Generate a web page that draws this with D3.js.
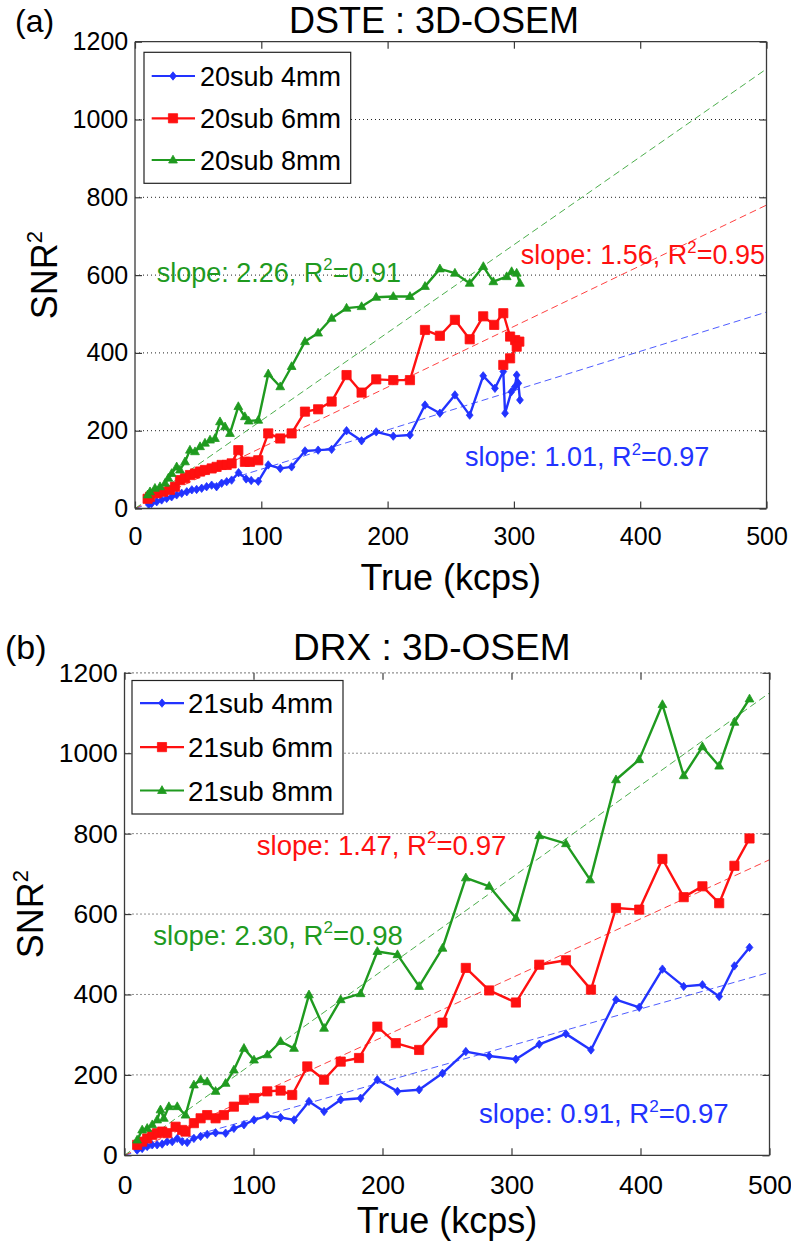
<!DOCTYPE html>
<html>
<head>
<meta charset="utf-8">
<script src="https://cdn.jsdelivr.net/npm/d3@7"></script>
<style>
  html, body { margin: 0; padding: 0; background: #fff; }
  svg { display: block; }
  text { font-family: "Liberation Sans", Arial, Helvetica, sans-serif; fill: #000; }
</style>
</head>
<body>
<svg id="chart" width="791" height="1245"></svg>
<script>
// ---------------- data ----------------
const xTicks = [0, 100, 200, 300, 400, 500];
const yTicks = [0, 200, 400, 600, 800, 1000, 1200];

// Panel (a) DSTE : 3D-OSEM  [True kcps, SNR^2]
const dste4mm = [[11,10],[13.2,13],[17.2,17.5],[21.1,22],[25.1,26],[29,30],[33,35],[37,39],[41,43],[45,48],[48.8,49],[52.8,52],[56.7,56],[60.7,60],[64.6,56],[68.6,65],[72.6,69],[76.5,73],[82,92],[88,76],[92,72],[97.6,70],[105.5,112],[115,103],[124,107],[134.6,148],[145,150],[155.7,152],[167.5,200],[179.4,174],[191,197],[204.5,186],[217.7,189],[229.6,266],[241.4,245],[253.3,292],[265,240],[275.7,341],[285,309],[291.6,352],[293,245],[298,300],[300.8,313],[302.2,343],[303.5,322],[304.8,279]];
const dste6mm = [[10,25],[11.9,30],[17.2,39],[22.4,43],[27.7,48],[31.7,56],[35.6,73],[39.6,78],[43.5,86],[47.5,90],[51.5,95],[55.4,99],[60.7,103],[64.6,107],[68.6,112],[72.6,112],[76.5,116],[81.8,150],[87,120],[91,120],[97.6,124],[105.5,193],[115,180],[124,193],[134.6,249],[145,255],[155.7,275],[167.5,343],[179.4,298],[191,332],[204.5,330],[217.7,330],[229.6,459],[241.4,444],[253.3,485],[265,435],[275.7,494],[284.4,472],[291.6,502],[297,442],[301,433],[304.3,429],[302.2,416],[297,386],[291.6,369]];
const dste8mm = [[10,35],[11.9,43],[15.8,52],[19.8,56],[23.8,65],[26.4,78],[29,90],[33,107],[35.6,99],[39.6,120],[43.5,150],[47.5,146],[51.5,159],[55.4,168],[59.4,176],[63.3,180],[67.3,223],[71.3,210],[75.2,193],[81.8,262],[87,236],[90,225],[97.6,227],[105.5,346],[115,313],[124,365],[134.6,429],[145,451],[155.7,489],[167.5,515],[179.4,519],[191,543],[204.5,545],[217.7,545],[229.6,571],[241.4,616],[253.3,605],[265,579],[275.8,622],[283.7,583],[294.3,596],[298.2,609],[302.2,605],[304.8,579]];
const dsteSlopes = [1.01, 1.56, 2.26];
const dsteR2 = ["0.97", "0.95", "0.91"];
const dsteLabels = ["20sub 4mm", "20sub 6mm", "20sub 8mm"];
const dsteNotePos = [[261.3,109],[305.4,628],[17.2,583]];

// Panel (b) DRX : 3D-OSEM
const drx4mm = [[9.8,13],[13.7,17],[17.6,22],[21.5,26],[25.3,26],[29.2,28],[33.1,34],[37,34],[40.9,42],[44.7,34],[48.6,32],[53.8,42],[59,47],[64.1,52],[70.6,56],[78.4,55],[84.8,67],[92.6,76],[100.4,88],[110.7,98],[121,94],[131.4,88],[143,134],[154.7,109],[167.6,138],[183,142],[196,188],[211.6,159],[228.4,163],[246.5,204],[264.6,258],[282.7,247],[303.4,239],[321.5,276],[342.2,302],[361.6,262],[381,387],[399,368],[417,463],[433.5,420],[448,424],[461,395],[472.8,471],[484.5,517]];
const drx6mm = [[9.8,26],[13.7,34],[17.6,42],[21.5,51],[25.3,55],[29.2,59],[33.1,55],[39.6,71],[44.7,63],[47.3,59],[53.8,80],[59,92],[64.1,100],[70.6,92],[77,100],[84.8,121],[92.6,138],[100.4,142],[110.7,159],[121,161],[130,150],[141.7,221],[154.7,188],[167.6,233],[181.8,242],[196,320],[210.3,279],[228.4,262],[246.5,330],[264.6,466],[282.7,410],[303.4,380],[321.5,474],[342.2,485],[361.6,412],[381,615],[399,611],[417,737],[433.5,642],[448,669],[461,627],[472.8,720],[484.5,788]];
const drx8mm = [[9.8,38],[13.7,63],[17.6,67],[21.5,76],[25.3,88],[27.9,113],[30.5,92],[34.4,121],[40.9,121],[47.3,100],[53.8,175],[59,188],[64.1,183],[70.6,159],[78.4,179],[84.8,212],[92.6,266],[100.4,237],[110.7,250],[121,283],[131.4,266],[143,399],[154.7,316],[167.6,387],[183,402],[196,507],[211.6,499],[228.4,420],[246.5,515],[264.6,690],[282.7,669],[303.4,590],[321.5,795],[342.2,775],[361,685],[381,934],[399,984],[417,1121],[433.5,944],[448,1016],[461,968],[472.8,1077],[484.5,1135]];
const drxSlopes = [0.91, 1.47, 2.30];
const drxR2 = ["0.97", "0.97", "0.98"];
const drxLabels = ["21sub 4mm", "21sub 6mm", "21sub 8mm"];
const drxNotePos = [[274.8,80],[102.5,747],[22.3,523]];

const colors = ["#2233ff", "#ff1010", "#1f9a1f"];
const markers = ["diamond", "square", "triangle"];

// ---------------- drawing ----------------
const svg = d3.select("#chart");

const panels = [
  { tag: "(a)", tagX: 15, tagY: 32, tagFs: 32, title: "DSTE : 3D-OSEM", titleX: 289, titleY: 32.8, titleFs: 36,
    left: 135, right: 766.5, top: 41.7, bottom: 508.5, fs: 25, noteFs: 27, legFs: 27, ylabX: 57, xlabY: 590,
    series: [dste4mm, dste6mm, dste8mm], slopes: dsteSlopes, r2: dsteR2, labels: dsteLabels, notes: dsteNotePos,
    legend: { dx: 9, dy: 10.6, w: 206.7, h: 131, rows: [23.7, 66, 107.7], lx0: 7.7, lx1: 51, mx: 29, tx: 56 },
    topDotted: false },
  { tag: "(b)", tagX: 5, tagY: 659, tagFs: 34, title: "DRX : 3D-OSEM", titleX: 293, titleY: 660, titleFs: 37,
    left: 124.5, right: 769.5, top: 672.8, bottom: 1155.3, fs: 26.5, noteFs: 27.6, legFs: 27.8, ylabX: 43, xlabY: 1233,
    series: [drx4mm, drx6mm, drx8mm], slopes: drxSlopes, r2: drxR2, labels: drxLabels, notes: drxNotePos,
    legend: { dx: 7.5, dy: 7.7, w: 211, h: 133.5, rows: [22.6, 66.6, 110], lx0: 8, lx1: 52, mx: 30, tx: 56 },
    topDotted: true }
];

function markerPath(type) {
  if (type === "diamond") return "M0,-4.2L3.4,0L0,4.2L-3.4,0Z";
  if (type === "square") return "M-4.6,-4.6H4.6V4.6H-4.6Z";
  return "M0,-4.8L4.4,3L-4.4,3Z";
}

panels.forEach(p => {
  const x = d3.scaleLinear().domain([0, 500]).range([p.left, p.right]);
  const y = d3.scaleLinear().domain([0, 1200]).range([p.bottom, p.top]);
  const g = svg.append("g");

  // grid (dotted)
  g.append("g").selectAll("line").data(yTicks.filter(v => v > 0 && v < 1200)).join("line")
    .attr("x1", p.left).attr("x2", p.right)
    .attr("y1", d => y(d)).attr("y2", d => y(d))
    .attr("stroke", "#222").attr("stroke-width", 1).attr("stroke-dasharray", "1,3");

  // fit lines (dashed)
  p.slopes.forEach((s, i) => {
    g.append("line")
      .attr("x1", x(0)).attr("y1", y(0))
      .attr("x2", x(500)).attr("y2", y(s * 500))
      .attr("stroke", colors[i]).attr("stroke-width", 1).attr("stroke-opacity", 0.8)
      .attr("stroke-dasharray", "7,4");
  });

  // data series
  const line = d3.line().x(d => x(d[0])).y(d => y(d[1]));
  p.series.forEach((data, i) => {
    g.append("path").datum(data).attr("d", line)
      .attr("fill", "none").attr("stroke", colors[i]).attr("stroke-width", 2.4)
      .attr("stroke-linejoin", "round");
    g.append("g").selectAll("path").data(data).join("path")
      .attr("d", markerPath(markers[i]))
      .attr("transform", d => `translate(${x(d[0])},${y(d[1])})`)
      .attr("fill", colors[i]).attr("stroke", colors[i]).attr("stroke-width", 0.8);
  });

  // box
  const boxColor = "#3a3a3a";
  g.append("line").attr("x1", p.left).attr("x2", p.right).attr("y1", p.bottom).attr("y2", p.bottom).attr("stroke", boxColor).attr("stroke-width", 1.3);
  g.append("line").attr("x1", p.left).attr("x2", p.left).attr("y1", p.top).attr("y2", p.bottom).attr("stroke", boxColor).attr("stroke-width", 1.3);
  g.append("line").attr("x1", p.right).attr("x2", p.right).attr("y1", p.top).attr("y2", p.bottom).attr("stroke", boxColor).attr("stroke-width", 1.3);
  g.append("line").attr("x1", p.left).attr("x2", p.right).attr("y1", p.top).attr("y2", p.top)
    .attr("stroke", p.topDotted ? "#222" : boxColor).attr("stroke-width", p.topDotted ? 1.2 : 1.3)
    .attr("stroke-dasharray", p.topDotted ? "1,3" : null);

  // axes
  const tl = 7;
  const xb = g.append("g").attr("transform", `translate(0,${p.bottom})`)
    .call(d3.axisBottom(x).tickValues(xTicks).tickSize(-tl).tickPadding(p.fs * 0.74).tickFormat(d3.format("d")));
  const xt = g.append("g").attr("transform", `translate(0,${p.top})`)
    .call(d3.axisTop(x).tickValues(xTicks).tickSize(-tl).tickFormat(""));
  const yl = g.append("g").attr("transform", `translate(${p.left},0)`)
    .call(d3.axisLeft(y).tickValues(yTicks).tickSize(-tl).tickPadding(6.8).tickFormat(d3.format("d")));
  const yr = g.append("g").attr("transform", `translate(${p.right},0)`)
    .call(d3.axisRight(y).tickValues(yTicks).tickSize(-tl).tickFormat(""));
  [xb, xt, yl, yr].forEach(a => {
    a.select(".domain").remove();
    a.selectAll(".tick line").attr("stroke", boxColor).attr("stroke-width", 1.2);
    a.selectAll("text").attr("font-size", p.fs).attr("font-family", "Liberation Sans, Arial, sans-serif").attr("fill", "#000");
  });

  // annotations
  p.notes.forEach((pos, i) => {
    const t = g.append("text").attr("x", x(pos[0])).attr("y", y(pos[1]))
      .attr("font-size", p.noteFs).style("fill", colors[i]);
    t.append("tspan").text(`slope: ${p.slopes[i].toFixed(2)}, R`);
    t.append("tspan").attr("font-size", p.noteFs * 0.62).attr("dy", -(p.noteFs * 0.42)).text("2");
    t.append("tspan").attr("dy", p.noteFs * 0.42).text(`=${p.r2[i]}`);
  });

  // legend
  const L = p.legend;
  const lg = g.append("g").attr("transform", `translate(${p.left + L.dx},${p.top + L.dy})`);
  lg.append("rect").attr("width", L.w).attr("height", L.h).attr("fill", "#fff")
    .attr("stroke", "#222").attr("stroke-width", 1.2);
  p.labels.forEach((lab, i) => {
    const ry = L.rows[i];
    lg.append("line").attr("x1", L.lx0).attr("x2", L.lx1).attr("y1", ry).attr("y2", ry)
      .attr("stroke", colors[i]).attr("stroke-width", 2.2);
    lg.append("path").attr("d", markerPath(markers[i])).attr("transform", `translate(${L.mx},${ry})`)
      .attr("fill", colors[i]).attr("stroke", colors[i]).attr("stroke-width", 0.8);
    lg.append("text").attr("x", L.tx).attr("y", ry + p.legFs * 0.36).attr("font-size", p.legFs).text(lab);
  });

  // titles and labels
  svg.append("text").attr("x", p.tagX).attr("y", p.tagY).attr("font-size", p.tagFs).text(p.tag);
  svg.append("text").attr("x", p.titleX).attr("y", p.titleY).attr("font-size", p.titleFs).text(p.title);
  svg.append("text").attr("x", (p.left + p.right) / 2).attr("y", p.xlabY)
    .attr("text-anchor", "middle").attr("font-size", 36).text("True (kcps)");
  const yt = svg.append("text")
    .attr("transform", `translate(${p.ylabX},${(p.top + p.bottom) / 2}) rotate(-90)`)
    .attr("text-anchor", "middle").attr("font-size", 36);
  yt.append("tspan").text("SNR");
  yt.append("tspan").attr("font-size", 22).attr("dy", -15).text("2");
});
</script>
</body>
</html>
